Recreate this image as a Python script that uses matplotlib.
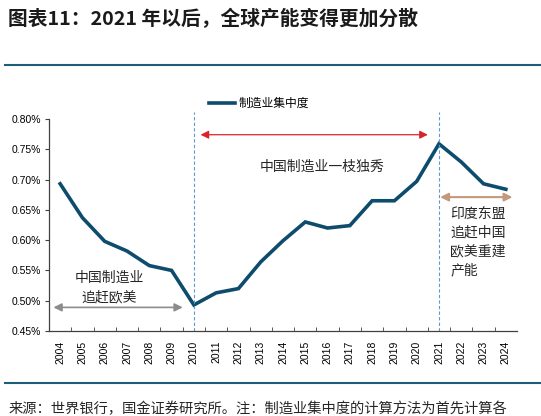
import matplotlib
matplotlib.use("Agg")
import matplotlib.pyplot as plt
from matplotlib.lines import Line2D

plt.rcParams['font.family'] = ['Noto Sans CJK SC', 'DejaVu Sans']

years = list(range(2004, 2025))
share = [0.693, 0.637, 0.598, 0.582, 0.558, 0.550, 0.493, 0.513, 0.520, 0.564,
         0.599, 0.630, 0.620, 0.624, 0.665, 0.665, 0.697, 0.759, 0.729, 0.693, 0.684]
yticks = [0.45, 0.50, 0.55, 0.60, 0.65, 0.70, 0.75, 0.80]
split_years = [2010, 2021]

title = "图表11：2021 年以后，全球产能变得更加分散"
source = "来源：世界银行，国金证券研究所。注：制造业集中度的计算方法为首先计算各"
series_name = "制造业集中度"

line_col = '#0E4C6D'
rule_col = '#1F5C7A'

fig = plt.figure(figsize=(5.41, 4.16), dpi=100)
ax = fig.add_axes([0.0906, 0.2043, 0.8650, 0.5097])

ax.plot(years, share, color=line_col, lw=2.6, solid_joinstyle='miter')

for yr in split_years:
    ax.plot([yr, yr], [0.45, 0.812], color='#5B9BD5', lw=0.8, ls=(0, (3, 2)),
            clip_on=False)

ax.set_xlim(2003.5, 2024.5)
ax.set_ylim(0.45, 0.80)
ax.set_yticks(yticks)
ax.set_yticklabels(["%.2f%%" % v for v in yticks], fontfamily='Liberation Sans', fontsize=7.5)
ax.set_xticks(years)
ax.set_xticklabels([str(y) for y in years], rotation=90, fontfamily='Liberation Sans',
                   fontsize=7.5)
ax.set_xticks([y + 0.5 for y in years[:-1]], minor=True)
ax.tick_params(axis='x', which='major', length=0, pad=7)
ax.tick_params(axis='x', which='minor', direction='in', length=3, color='#404040')
ax.tick_params(axis='y', direction='out', length=3, color='#404040', pad=3)
for s in ['top', 'right']:
    ax.spines[s].set_visible(False)
for s in ['left', 'bottom']:
    ax.spines[s].set_color('#404040')
    ax.spines[s].set_linewidth(0.9)

# annotations
ax.annotate('', xy=(2003.7, 0.489), xytext=(2009.5, 0.489),
            arrowprops=dict(arrowstyle='<|-|>', color='#8C8C8C', lw=1.2,
                            mutation_scale=12, shrinkA=0, shrinkB=0))
ax.annotate('', xy=(2010.3, 0.774), xytext=(2020.5, 0.774),
            arrowprops=dict(arrowstyle='<|-|>', color='#D6262B', lw=0.9,
                            mutation_scale=12, shrinkA=0, shrinkB=0))
ax.annotate('', xy=(2021.05, 0.671), xytext=(2024.3, 0.671),
            arrowprops=dict(arrowstyle='<|-|>', color='#C4987A', lw=1.5,
                            mutation_scale=12, shrinkA=0, shrinkB=0))

ax.text(2006.2, 0.5215, "中国制造业\n追赶欧美", ha='center', va='center', fontsize=10,
        color='#262626', linespacing=1.55)
ax.text(2015.75, 0.7215, "中国制造业一枝独秀", ha='center', va='center', fontsize=10,
        color='#262626')
ax.text(2021.5, 0.6555, "印度东盟\n追赶中国\n欧美重建\n产能", ha='left', va='top',
        fontsize=10, color='#262626', linespacing=1.45)

handle = Line2D([], [], color=line_col, lw=2.6)
fig.legend([handle], [series_name], loc='center', bbox_to_anchor=(0.478, 0.752),
           frameon=False, fontsize=8.5, handlelength=2.2, handletextpad=0.3)

fig.text(0.015, 0.955, title, fontsize=14.2, fontweight='bold', style='italic',
         ha='left', va='center', color='#1A1A1A')
fig.add_artist(Line2D([0.01, 1.0], [0.844, 0.844], color=rule_col, lw=1.5))
fig.add_artist(Line2D([0.01, 1.0], [0.079, 0.079], color=rule_col, lw=1.5))
fig.text(0.015, 0.018, source, fontsize=10.3, ha='left', va='center', color='#262626')

fig.savefig('out.png', dpi=100)
